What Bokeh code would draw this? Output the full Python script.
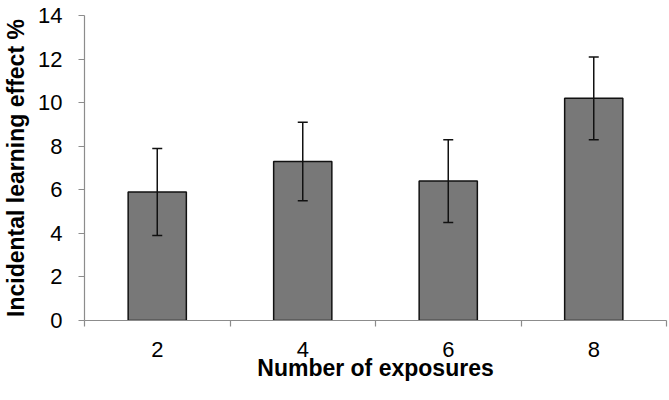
from bokeh.plotting import figure
from bokeh.models import ColumnDataSource, Range1d, FixedTicker, Whisker, TeeHead
from bokeh.embed import file_html
from bokeh.resources import INLINE

categories = ["2", "4", "6", "8"]
means = [5.9, 7.3, 6.4, 10.2]
errors = [2.0, 1.8, 1.9, 1.9]
y_ticks = [0, 2, 4, 6, 8, 10, 12, 14]

xs = [i + 0.5 for i in range(len(categories))]
src = ColumnDataSource(dict(
    x=xs, top=means,
    upper=[m + e for m, e in zip(means, errors)],
    lower=[m - e for m, e in zip(means, errors)],
))

FONT = "Liberation Sans"
AX = "#8c8c8c"

p = figure(width=669, height=400, output_backend="svg", toolbar_location=None,
           x_range=Range1d(0, len(categories)), y_range=Range1d(0, 14),
           min_border_left=79, min_border_top=15, min_border_right=3, min_border_bottom=80)
p.outline_line_color = None
p.xgrid.visible = False
p.ygrid.visible = False

p.vbar(x="x", top="top", width=0.4, bottom=0, source=src,
       fill_color="#787878", line_color="#111111", line_width=1.5)

w = Whisker(base="x", upper="upper", lower="lower", source=src, level="overlay",
            line_color="#111111", line_width=1.5,
            upper_head=TeeHead(size=10, line_color="#111111", line_width=1.5),
            lower_head=TeeHead(size=10, line_color="#111111", line_width=1.5))
p.add_layout(w)

xa = p.xaxis[0]
xa.ticker = FixedTicker(ticks=xs, minor_ticks=list(range(len(categories) + 1)))
xa.major_label_overrides = {x: c for x, c in zip(xs, categories)}
xa.major_tick_line_color = None
xa.major_tick_in = 0
xa.major_tick_out = 6
xa.minor_tick_line_color = AX
xa.minor_tick_in = 0
xa.minor_tick_out = 6
xa.minor_tick_line_width = 1.2
xa.axis_line_color = AX
xa.axis_line_width = 1.2
xa.major_label_text_font = FONT
xa.major_label_text_font_size = "22px"
xa.major_label_text_color = "#000000"
xa.major_label_standoff = 15
xa.axis_label = "Number of exposures"
xa.axis_label_text_font = FONT
xa.axis_label_text_font_style = "bold"
xa.axis_label_text_font_size = "23px"
xa.axis_label_text_color = "#000000"
xa.axis_label_standoff = -5

ya = p.yaxis[0]
ya.ticker = FixedTicker(ticks=y_ticks, minor_ticks=[])
ya.major_tick_line_color = AX
ya.major_tick_line_width = 1.2
ya.major_tick_in = 0
ya.major_tick_out = 6
ya.axis_line_color = AX
ya.axis_line_width = 1.2
ya.major_label_text_font = FONT
ya.major_label_text_font_size = "22px"
ya.major_label_text_color = "#000000"
ya.major_label_standoff = 16
ya.axis_label = "Incidental learning effect %"
ya.axis_label_text_font = FONT
ya.axis_label_text_font_style = "bold"
ya.axis_label_text_font_size = "23px"
ya.axis_label_text_color = "#000000"
ya.axis_label_standoff = 6

open("out.html", "w").write(file_html(p, INLINE))
